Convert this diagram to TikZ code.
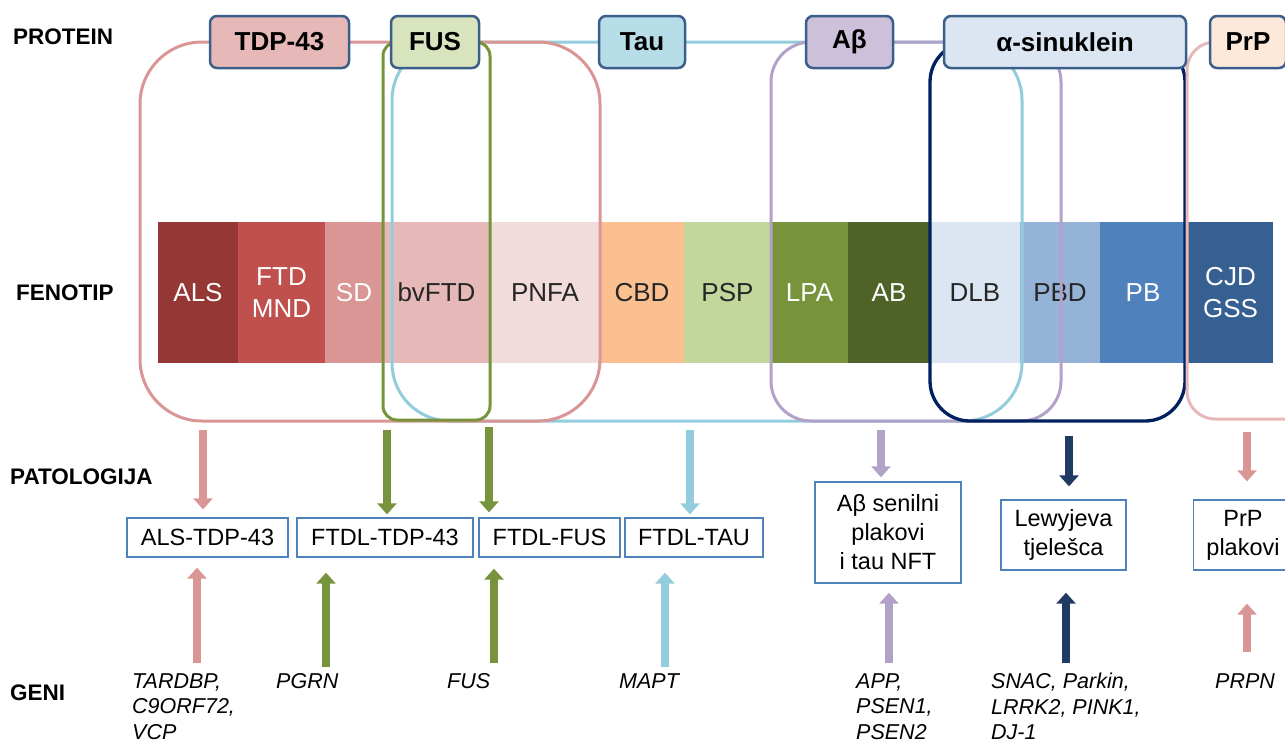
\documentclass[tikz,border=0pt]{standalone}
\usepackage{fontspec}
\setmainfont{Liberation Sans}
\usetikzlibrary{arrows.meta}

% boje
\definecolor{protline}{HTML}{3B5F8A}
\definecolor{tdpfill}{HTML}{E6B9B8}
\definecolor{fusfill}{HTML}{D7E4BD}
\definecolor{taufill}{HTML}{B7DEE8}
\definecolor{abfill}{HTML}{CCC0DA}
\definecolor{synfill}{HTML}{DCE6F2}
\definecolor{prpfill}{HTML}{FDE9D9}
\definecolor{tdpline}{HTML}{D99694}
\definecolor{fusline}{HTML}{77933C}
\definecolor{tauline}{HTML}{93CDDD}
\definecolor{abline}{HTML}{B3A2C7}
\definecolor{synline}{HTML}{002060}
\definecolor{prpline}{HTML}{E6B9B8}
\definecolor{navyarr}{HTML}{1F3B64}
\definecolor{patoline}{HTML}{4F81BD}
\definecolor{darktext}{HTML}{262626}
\definecolor{alsfill}{HTML}{953735}
\definecolor{ftdfill}{HTML}{C0504D}
\definecolor{pnfafill}{HTML}{F2DCDB}
\definecolor{cbdfill}{HTML}{FAC090}
\definecolor{pspfill}{HTML}{C3D69B}
\definecolor{abgfill}{HTML}{4F6228}
\definecolor{pbdfill}{HTML}{95B3D7}
\definecolor{cjdfill}{HTML}{376092}

\tikzset{
  prot/.style={draw=protline, line width=2.5pt, rounded corners=7pt, minimum height=52, inner sep=0, font=\fontsize{26}{30}\selectfont\bfseries},
  seg/.style={minimum height=141, inner sep=0, outer sep=0, align=center, font=\fontsize{26}{32}\selectfont},
  pato/.style={draw=patoline, line width=1.3pt, fill=white, inner sep=0, align=center, font=\fontsize{23.5}{29}\selectfont},
  rowlabel/.style={anchor=west, inner sep=0, font=\fontsize{22.5}{26}\selectfont\bfseries},
  gen/.style={anchor=north west, inner sep=0, align=left, font=\fontsize{21.5}{25.5}\selectfont\itshape},
  group/.style={line width=3pt},
  arr/.style={line width=7.5pt, -{Triangle[width=19pt,length=11pt]}},
}

\begin{document}
\begin{tikzpicture}[x=1pt,y=-1pt]
	\useasboundingbox (0,0) rectangle (1285,740);
	%\draw[help lines] (0,0) grid[step=50] (1285,740);

	% fenotip
	\node[seg, fill=alsfill, minimum width=80, text=white] (als) at (198,292.5) {ALS};
	\node[seg, fill=ftdfill, minimum width=87, text=white] (ftdmnd) at (281.5,292.5) {FTD\\MND};
	\node[seg, fill=tdpline, minimum width=58, text=white] (sd) at (354,292.5) {SD};
	\node[seg, fill=tdpfill, minimum width=107, text=darktext] (bvftd) at (436.5,292.5) {bvFTD};
	\node[seg, fill=pnfafill, minimum width=110, text=darktext] (pnfa) at (545,292.5) {PNFA};
	\node[seg, fill=cbdfill, minimum width=84, text=darktext] (cbd) at (642,292.5) {CBD};
	\node[seg, fill=pspfill, minimum width=87, text=darktext] (psp) at (727.5,292.5) {PSP};
	\node[seg, fill=fusline, minimum width=77, text=white] (lpa) at (809.5,292.5) {LPA};
	\node[seg, fill=abgfill, minimum width=82, text=white] (ab) at (889,292.5) {AB};
	\node[seg, fill=synfill, minimum width=90, text=darktext] (dlb) at (975,292.5) {DLB};
	\node[seg, fill=pbdfill, minimum width=80, text=darktext] (pbd) at (1060,292.5) {PBD};
	\node[seg, fill=patoline, minimum width=86, text=white] (pb) at (1143,292.5) {PB};
	\node[seg, fill=cjdfill, minimum width=85, text=white] (cjd) at (1230.5,292.5) {CJD\\GSS};

	% skupine
	\draw[group, tauline, rounded corners=58] (392,42) rectangle (1022,421);
	\draw[group, tdpline, rounded corners=62] (140,42) rectangle (600,421);
	\draw[group, fusline, rounded corners=14] (383,42) rectangle (490,420);
	\draw[group, abline, rounded corners=40] (771,42) rectangle (1061,421);
	\draw[group, synline, line width=3.3pt, rounded corners=40] (930,42) rectangle (1185,421);
	\draw[group, prpline, rounded corners=28] (1187,42) rectangle (1320,419);

	% proteini
	\node[prot, fill=tdpfill, minimum width=139] (tdp) at (279.5,42) {TDP-43};
	\node[prot, fill=fusfill, minimum width=88] (fus) at (435,42) {FUS};
	\node[prot, fill=taufill, minimum width=86] (tau) at (642,42) {Tau};
	\node[prot, fill=abfill, minimum width=87] (abeta) at (849.5,42) {Aβ};
	\node[prot, fill=synfill, minimum width=242] (syn) at (1065,42) {α-sinuklein};
	\node[prot, fill=prpfill, minimum width=76] (prp) at (1248,42) {PrP};

	% redovi
	\node[rowlabel] (lprot) at (13,37) {PROTEIN};
	\node[rowlabel] (lfeno) at (16,293) {FENOTIP};
	\node[rowlabel] (lpato) at (10,477) {PATOLOGIJA};
	\node[rowlabel] (lgeni) at (10,693) {GENI};

	% patologija
	\node[pato, minimum width=161, minimum height=39] (alstdp) at (207.5,537.5) {ALS-TDP-43};
	\node[pato, minimum width=176, minimum height=39] (ftdltdp) at (385,537.5) {FTDL-TDP-43};
	\node[pato, minimum width=141, minimum height=39] (ftdlfus) at (549.5,537.5) {FTDL-FUS};
	\node[pato, minimum width=138, minimum height=39] (ftdltau) at (694,537.5) {FTDL-TAU};
	\node[pato, minimum width=146, minimum height=101] (plak) at (888,532.5) {Aβ senilni\\plakovi\\i tau NFT};
	\node[pato, minimum width=125, minimum height=70] (lewy) at (1063.5,535) {Lewyjeva\\tjelešca};
	\node[pato, minimum width=99, minimum height=70] (prpplak) at (1243,535) {PrP\\plakovi};

	% geni
	\node[gen] (gtdp) at (132,673) {TARDBP,\\C9ORF72,\\VCP};
	\node[gen] (gpgrn) at (276,673) {PGRN};
	\node[gen] (gfus) at (447,673) {FUS};
	\node[gen] (gmapt) at (619,673) {MAPT};
	\node[gen] (gapp) at (856,673) {APP,\\PSEN1,\\PSEN2};
	\node[gen] (gsnac) at (991,673) {SNAC, Parkin,\\LRRK2, PINK1,\\DJ-1};
	\node[gen] (gprpn) at (1215,673) {PRPN};

	% strelice dolje
	\coordinate (dtdp) at (203,430);
	\coordinate (dfus1) at (387,430);
	\coordinate (dfus2) at (489,427);
	\coordinate (dtau) at (690,430);
	\coordinate (dab) at (881,430);
	\coordinate (dsyn) at (1069,436);
	\coordinate (dprp) at (1247,432);
	\draw[arr, tdpline] (dtdp) -- ([shift={(0,-8)}]dtdp |- alstdp.north);
	\draw[arr, fusline] (dfus1) -- ([shift={(0,-3)}]dfus1 |- ftdltdp.north);
	\draw[arr, fusline] (dfus2) -- ([shift={(0,-5)}]dfus2 |- ftdlfus.north);
	\draw[arr, tauline] (dtau) -- ([shift={(0,-3)}]dtau |- ftdltau.north);
	\draw[arr, abline] (dab) -- ([shift={(0,-4)}]dab |- plak.north);
	\draw[arr, navyarr] (dsyn) -- ([shift={(0,-13)}]dsyn |- lewy.north);
	\draw[arr, tdpline] (dprp) -- ([shift={(0,-18)}]dprp |- prpplak.north);

	% strelice gore
	\coordinate (utdp) at (197,663);
	\coordinate (upgrn) at (326,667);
	\coordinate (ufus) at (494,663);
	\coordinate (umapt) at (665,667);
	\coordinate (uapp) at (889,663);
	\coordinate (usnac) at (1066,663);
	\coordinate (uprpn) at (1247,652);
	\draw[arr, tdpline] (utdp) -- ([shift={(0,10)}]utdp |- alstdp.south);
	\draw[arr, fusline] (upgrn) -- ([shift={(0,15)}]upgrn |- ftdltdp.south);
	\draw[arr, fusline] (ufus) -- ([shift={(0,11)}]ufus |- ftdlfus.south);
	\draw[arr, tauline] (umapt) -- ([shift={(0,15)}]umapt |- ftdltau.south);
	\draw[arr, abline] (uapp) -- ([shift={(0,9)}]uapp |- plak.south);
	\draw[arr, navyarr] (usnac) -- ([shift={(0,22)}]usnac |- lewy.south);
	\draw[arr, tdpline] (uprpn) -- ([shift={(0,33)}]uprpn |- prpplak.south);
\end{tikzpicture}
\end{document}
